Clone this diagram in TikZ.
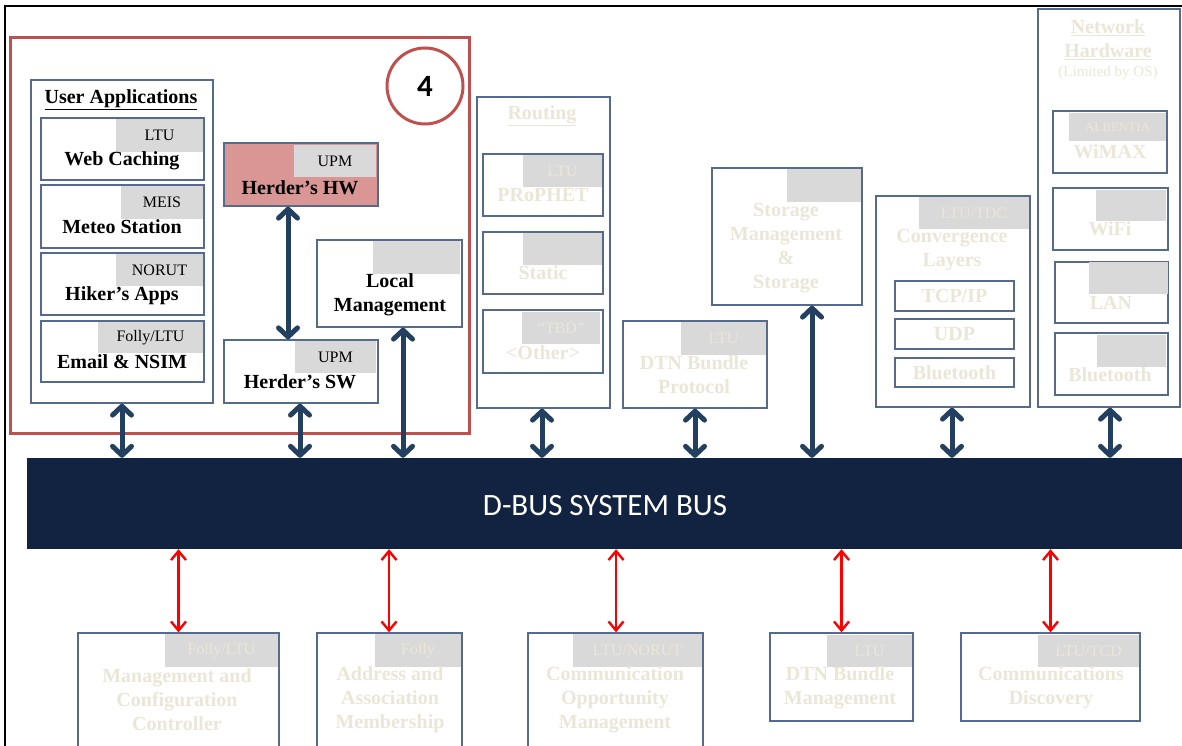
\documentclass[tikz,border=0pt]{standalone}
\usepackage{fontspec}
\setmainfont{Liberation Serif}
\newfontfamily\busfont{Carlito}
\usepackage{tikz}
\usetikzlibrary{arrows.meta,fit,positioning}
\usepackage{xcolor}
\definecolor{BoxLine}{RGB}{84,106,142}
\definecolor{TagGray}{RGB}{217,217,217}
\definecolor{Faint}{RGB}{234,231,216}
\definecolor{Grp}{RGB}{192,80,77}
\definecolor{HWpink}{RGB}{217,150,148}
\definecolor{BusNavy}{RGB}{17,35,64}
\definecolor{LinkBlue}{RGB}{36,64,97}

\tikzset{
  blk/.style={draw=BoxLine, line width=1.3pt, inner sep=0pt, fill=white},
  orgtag/.style={fill=TagGray, inner sep=0pt},
  tagtxt/.style={inner sep=0pt, font=\fontsize{16}{18}\selectfont},
  txt/.style={align=center, inner sep=0pt, font=\bfseries\fontsize{20}{24}\selectfont},
  faint/.style={text=Faint},
  buslink/.style={LinkBlue, line width=5pt,
    {Straight Barb[length=9pt,width=19pt,round]}-{Straight Barb[length=9pt,width=19pt,round]}},
  ctrllink/.style={red, line width=2.4pt,
    {Straight Barb[length=9pt,width=15pt]}-{Straight Barb[length=9pt,width=15pt]}},
}

\begin{document}
\begin{tikzpicture}[x=1pt,y=-1pt]
\useasboundingbox (0,0) rectangle (1182,746);
\clip (0,0) rectangle (1182,746);
\draw[line width=1.5pt] (5,746) -- (5,6) -- (1182,6);
%
% group 4
\node[draw=Grp, line width=3pt, inner sep=0pt, fit={(10,38) (469,433)}] (grp) {};
\node[draw=Grp, line width=3pt, circle, minimum size=76pt, inner sep=0pt] (four) at (425,86) {};
\node[font=\busfont\bfseries\fontsize{31}{33}\selectfont, inner sep=0pt] (fourtxt) at (four) {4};
%
\node[blk, fit={(31,80) (213,403)}] (apps) {};
\node[txt] (appsttl) at (121,100) {\underline{User Applications}};
\node[blk, fit={(41,118) (204,180)}] (web) {};
\node[orgtag, fit={(116,119) (203,152)}] (webtag) {};
\node[tagtxt] (webtagtxt) at (webtag) {LTU};
\node[txt] (webtxt) at (122,161) {Web Caching};
\node[blk, fit={(41,185) (204,248)}] (meteo) {};
\node[orgtag, fit={(121,186) (203,219)}] (meteotag) {};
\node[tagtxt] (meteotagtxt) at (meteotag) {MEIS};
\node[txt] (meteotxt) at (122,227) {Meteo Station};
\node[blk, fit={(41,253) (204,315)}] (hiker) {};
\node[orgtag, fit={(116,254) (203,286)}] (hikertag) {};
\node[tagtxt] (hikertagtxt) at (hikertag) {NORUT};
\node[txt] (hikertxt) at (122,296) {Hiker’s Apps};
\node[blk, fit={(41,321) (204,382)}] (email) {};
\node[orgtag, fit={(98,322) (203,353)}] (emailtag) {};
\node[tagtxt] (emailtagtxt) at (emailtag) {Folly/LTU};
\node[txt] (emailtxt) at (122,362) {Email \& NSIM};
%
\node[blk, fill=HWpink, fit={(224,143) (378,206)}] (hw) {};
\node[orgtag, fit={(294,145) (376,177)}] (hwtag) {};
\node[tagtxt] (hwtagtxt) at (hwtag) {UPM};
\node[txt] (hwtxt) at (300,188) {Herder’s HW};
\node[blk, fit={(224,340) (378,403)}] (sw) {};
\node[orgtag, fit={(295,341) (376,373)}] (swtag) {};
\node[tagtxt] (swtagtxt) at (swtag) {UPM};
\node[txt] (swtxt) at (300,382) {Herder’s SW};
\node[blk, fit={(317,240) (462,327)}] (local) {};
\node[orgtag, fit={(373,241) (460,274)}] (localtag) {};
\node[txt] (localtxt) at (390,295) {Local\\Management};
%
% routing
\node[blk, fit={(477,97) (610,408)}] (routing) {};
\node[txt, faint] (routingttl) at (542,116) {\underline{Routing}};
\node[blk, fit={(483,154) (603,216)}] (prophet) {};
\node[orgtag, fit={(523,155) (602,187)}] (prophettag) {};
\node[tagtxt, faint] (prophettagtxt) at (prophettag) {LTU};
\node[txt, faint] (prophettxt) at (543,195) {PRoPHET};
\node[blk, fit={(483,232) (603,294)}] (static) {};
\node[orgtag, fit={(523,233) (602,265)}] (statictag) {};
\node[txt, faint] (statictxt) at (543,273) {Static};
\node[blk, fit={(483,310) (603,373)}] (other) {};
\node[orgtag, fit={(522,312) (600,344)}] (othertag) {};
\node[tagtxt, faint] (othertagtxt) at (othertag) {“TBD”};
\node[txt, faint] (othertxt) at (543,353) {<Other>};
%
\node[blk, fit={(623,321) (767,408)}] (bpa) {};
\node[orgtag, fit={(681,322) (766,355)}] (bpatag) {};
\node[tagtxt, faint] (bpatagtxt) at (bpatag) {LTU};
\node[txt, faint] (bpatxt) at (694,375) {DTN Bundle\\Protocol};
%
\node[blk, fit={(712,168) (862,305)}] (store) {};
\node[orgtag, fit={(787,169) (861,202)}] (storetag) {};
\node[txt, faint] (storetxt) at (786,248) {Storage\\Management\\\&\\Storage};
%
\node[blk, fit={(876,196) (1030,407)}] (cla) {};
\node[orgtag, fit={(919,197) (1029,229)}] (clatag) {};
\node[tagtxt, faint] (clatagtxt) at (clatag) {LTU/TDC};
\node[txt, faint] (clatxt) at (952,250) {Convergence\\Layers};
\node[blk, fit={(895,281) (1014,311)}] (tcp) {};
\node[txt, faint] (tcptxt) at (tcp) {TCP/IP};
\node[blk, fit={(895,319) (1014,349)}] (udp) {};
\node[txt, faint] (udptxt) at (udp) {UDP};
\node[blk, fit={(895,358) (1014,387)}] (bta) {};
\node[txt, faint] (btatxt) at (bta) {Bluetooth};
%
\node[blk, fit={(1038,9) (1180,407)}] (nethw) {};
\node[txt, faint] (nethwttl) at (1108,40) {\underline{Network}\\\underline{Hardware}};
\node[tagtxt, faint, font=\fontsize{15}{17}\selectfont] (nethwos) at (1108,73) {(Limited by OS)};
\node[blk, fit={(1053,111) (1167,173)}] (wimax) {};
\node[orgtag, fit={(1069,113) (1166,141)}] (wimaxtag) {};
\node[tagtxt, faint, font=\fontsize{13}{15}\selectfont] (wimaxtagtxt) at (wimaxtag) {ALBENTIA};
\node[txt, faint] (wimaxtxt) at (1110,152) {WiMAX};
\node[blk, fit={(1053,188) (1168,250)}] (wifi) {};
\node[orgtag, fit={(1096,190) (1166,221)}] (wifitag) {};
\node[txt, faint] (wifitxt) at (1110,229) {WiFi};
\node[blk, fit={(1055,262) (1168,323)}] (lan) {};
\node[orgtag, fit={(1089,262) (1168,294)}] (lantag) {};
\node[txt, faint] (lantxt) at (1111,303) {LAN};
\node[blk, fit={(1055,333) (1168,395)}] (btb) {};
\node[orgtag, fit={(1097,335) (1166,367)}] (btbtag) {};
\node[txt, faint] (btbtxt) at (1110,375) {Bluetooth};
%
% bus
\node[fill=BusNavy, inner sep=0pt, fit={(27,458) (1182,549)}] (bus) {};
\node[text=white, inner sep=0pt, font=\busfont\fontsize{31}{33}\selectfont] (bustxt) at (605,506) {D-BUS SYSTEM BUS};
%
% bottom row
\node[blk, fit={(78,633) (279,760)}] (mcc) {};
\node[orgtag, fit={(165,634) (278,667)}] (mcctag) {};
\node[tagtxt, faint] (mcctagtxt) at (mcctag) {Folly/LTU};
\node[txt, faint] (mcctxt) at (177,700) {Management and\\Configuration\\Controller};
\node[blk, fit={(317,633) (462,760)}] (aam) {};
\node[orgtag, fit={(375,634) (461,667)}] (aamtag) {};
\node[tagtxt, faint] (aamtagtxt) at (aamtag) {Folly};
\node[txt, faint] (aamtxt) at (390,700) {Address and\\Association\\Membership};
\node[blk, fit={(528,633) (703,760)}] (com) {};
\node[orgtag, fit={(573,634) (702,667)}] (comtag) {};
\node[tagtxt, faint] (comtagtxt) at (comtag) {LTU/NORUT};
\node[txt, faint] (comtxt) at (615,700) {Communication\\Opportunity\\Management};
\node[blk, fit={(770,633) (913,721)}] (dbm) {};
\node[orgtag, fit={(827,635) (912,667)}] (dbmtag) {};
\node[tagtxt, faint] (dbmtagtxt) at (dbmtag) {LTU};
\node[txt, faint] (dbmtxt) at (840,688) {DTN Bundle\\Management};
\node[blk, fit={(961,633) (1140,721)}] (cdi) {};
\node[orgtag, fit={(1038,635) (1139,667)}] (cditag) {};
\node[tagtxt, faint] (cditagtxt) at (cditag) {LTU/TCD};
\node[txt, faint] (cditxt) at (1051,688) {Communications\\Discovery};
%
% connectors
\draw[buslink] (hw.south -| 288,0) -- (sw.north -| 288,0);
\draw[buslink] (apps.south) -- (apps.south |- bus.north);
\draw[buslink] (sw.south -| 300,0) -- (bus.north -| 300,0);
\draw[buslink] (local.south -| 403,0) -- (bus.north -| 403,0);
\draw[buslink] (routing.south -| 542,0) -- (bus.north -| 542,0);
\draw[buslink] (bpa.south) -- (bpa.south |- bus.north);
\draw[buslink] (store.south -| 812,0) -- (bus.north -| 812,0);
\draw[buslink] (cla.south -| 952,0) -- (bus.north -| 952,0);
\draw[buslink] (nethw.south -| 1110,0) -- (bus.north -| 1110,0);
%
\draw[ctrllink] (bus.south -| mcc.north) -- (mcc.north);
\draw[ctrllink] (bus.south -| 389,0) -- (aam.north -| 389,0);
\draw[ctrllink] (bus.south -| 616,0) -- (com.north -| 616,0);
\draw[ctrllink] (bus.south -| dbm.north) -- (dbm.north);
\draw[ctrllink] (bus.south -| cdi.north) -- (cdi.north);
\end{tikzpicture}
\end{document}
